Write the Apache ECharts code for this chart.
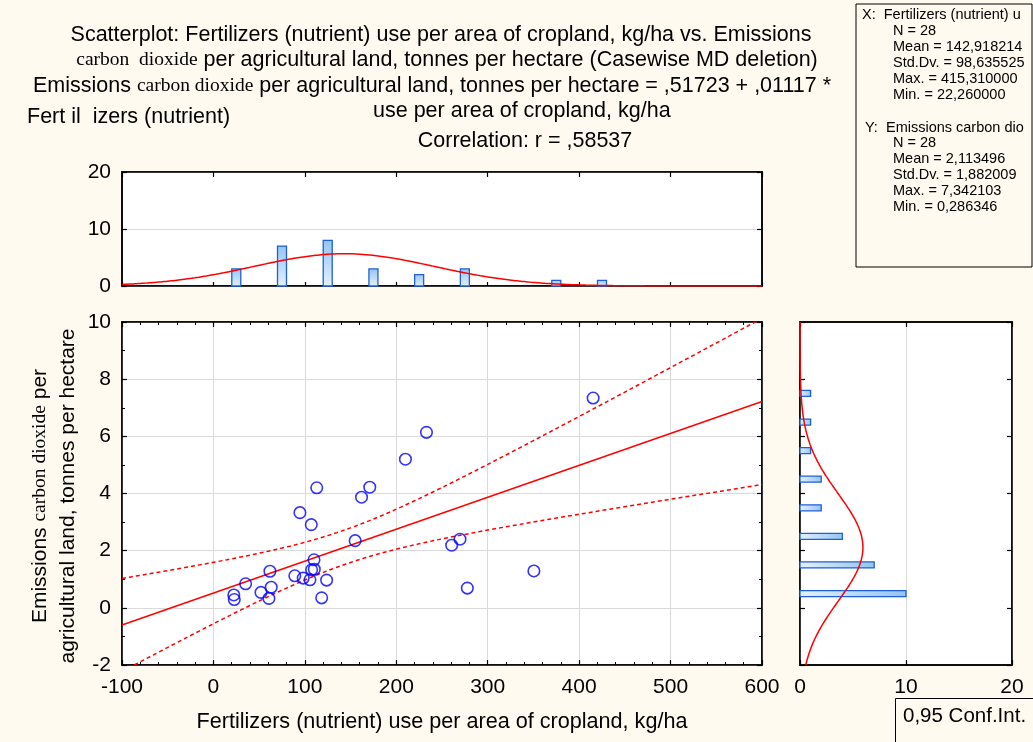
<!DOCTYPE html>
<html><head><meta charset="utf-8">
<script src="https://cdn.jsdelivr.net/npm/echarts@6/dist/echarts.min.js"></script>
<style>html,body{margin:0;padding:0;background:#fffaf0}#c{width:1033px;height:742px}</style>
</head><body><div id="c"></div>
<script>
// ---- data ----
const fertX = [233, 210, 113, 171, 162, 94.6, 107, 155, 260.6, 269.7, 110, 61.8, 35.2, 89, 98.2, 107.4, 110.3, 105.6, 123.8, 63.2, 52, 60.7, 22.3, 22.8, 118.4, 277.7, 350.5, 415.3];
const emissY = [6.14, 5.2, 4.2, 4.22, 3.87, 3.33, 2.91, 2.35, 2.19, 2.40, 1.68, 1.28, 0.84, 1.12, 1.04, 1.33, 1.35, 0.98, 0.97, 0.72, 0.54, 0.33, 0.45, 0.29, 0.35, 0.69, 1.29, 7.34];
const xBinCenters = [25, 75, 125, 175, 225, 275, 325, 375, 425];
const xBinCounts = [3, 7, 8, 3, 2, 3, 0, 1, 1];
const yBinCenters = [0.5, 1.5, 2.5, 3.5, 4.5, 5.5, 6.5, 7.5];
const yBinCounts = [10, 7, 4, 2, 2, 1, 1, 1];
const regCoef = [0.51723, 0.01117];          // intercept, slope (from the title)
const xStatsNum = [28, 142.918214, 98.635525]; // N, mean, sd
const yStatsNum = [28, 2.113496, 1.882009];
const xStatsLines = ['N = 28', 'Mean = 142,918214', 'Std.Dv. = 98,635525', 'Max. = 415,310000', 'Min. = 22,260000'];
const yStatsLines = ['N = 28', 'Mean = 2,113496', 'Std.Dv. = 1,882009', 'Max. = 7,342103', 'Min. = 0,286346'];

const F = '"Liberation Sans", Arial, sans-serif';
const S = '"Liberation Serif", "Times New Roman", serif';

// ---- fitted curves ----
const n = fertX.length;
const fit = x => regCoef[0] + regCoef[1] * x;
let sse = 0; for (let i = 0; i < n; i++) { const r = emissY[i] - fit(fertX[i]); sse += r * r; }
const sRes = Math.sqrt(sse / (n - 2));
const sxx = (n - 1) * xStatsNum[2] * xStatsNum[2];
const tCrit = 2.0555;
const ciUp = [], ciLo = [];
for (let x = -100; x <= 600; x += 5) {
  const h = tCrit * sRes * Math.sqrt(1 / n + (x - xStatsNum[1]) ** 2 / sxx);
  ciUp.push([x, fit(x) + h]); ciLo.push([x, fit(x) - h]);
}
const normX = [];
for (let x = -100; x <= 600; x += 4) {
  const z = (x - xStatsNum[1]) / xStatsNum[2];
  normX.push([x, xStatsNum[0] * 50 / (xStatsNum[2] * Math.sqrt(2 * Math.PI)) * Math.exp(-0.5 * z * z)]);
}
const normY = [];
for (let y = -2; y <= 10.001; y += 0.05) {
  const z = (y - yStatsNum[1]) / yStatsNum[2];
  normY.push([yStatsNum[0] * 1 / (yStatsNum[2] * Math.sqrt(2 * Math.PI)) * Math.exp(-0.5 * z * z), y]);
}

const axLine = { show: true, onZero: false, lineStyle: { color: '#000', width: 1.5 } };
const grayGrid = { show: true, lineStyle: { color: '#dadada', width: 1 } };
const lab = { color: '#000', fontFamily: F, fontSize: 21 };
function ax(o) {
  return Object.assign({ type: 'value', axisLine: axLine, axisLabel: { show: false }, splitLine: { show: false },
    axisTick: { show: true, inside: true, length: 5, lineStyle: { color: '#000', width: 1.2 } } }, o);
}
const barGrad = (vertical) => new echarts.graphic.LinearGradient(0, vertical ? 1 : 0, vertical ? 0 : 1, 0,
  [{ offset: 0, color: '#e4f1fd' }, { offset: 1, color: '#94c4f2' }]);

const option = {
  backgroundColor: '#fffaf0',
  animation: false,
  grid: [
    { left: 122, top: 322, width: 640, height: 343, show: true, backgroundColor: '#fff', borderColor: '#000', borderWidth: 1.5 },
    { left: 122, top: 172, width: 640, height: 114, show: true, backgroundColor: '#fff', borderColor: '#000', borderWidth: 1.5 },
    { left: 800, top: 322, width: 212, height: 343, show: true, backgroundColor: '#fff', borderColor: '#000', borderWidth: 1.5 }
  ],
  xAxis: [
    ax({ gridIndex: 0, position: 'bottom', min: -100, max: 600, interval: 100, axisLabel: Object.assign({ show: true, margin: 12 }, lab),
      minorTick: { show: true, splitNumber: 5, length: 3, lineStyle: { color: '#000' } }, splitLine: grayGrid }),
    ax({ gridIndex: 0, position: 'top', min: -100, max: 600, interval: 100,
      minorTick: { show: true, splitNumber: 5, length: 3, lineStyle: { color: '#000' } } }),
    ax({ gridIndex: 1, position: 'bottom', min: -100, max: 600, interval: 100, axisTick: { show: true, inside: true, length: 4, lineStyle: { color: '#000', width: 1.2 } } }),
    ax({ gridIndex: 1, position: 'top', min: -100, max: 600, interval: 100 }),
    ax({ gridIndex: 2, position: 'bottom', min: 0, max: 20, interval: 10, axisLabel: Object.assign({ show: true, margin: 12 }, lab), splitLine: grayGrid }),
    ax({ gridIndex: 2, position: 'top', min: 0, max: 20, interval: 10 })
  ],
  yAxis: [
    ax({ gridIndex: 0, position: 'left', min: -2, max: 10, interval: 2, axisLabel: Object.assign({ show: true, margin: 11 }, lab),
      minorTick: { show: true, splitNumber: 2, length: 3, lineStyle: { color: '#000' } }, splitLine: grayGrid }),
    ax({ gridIndex: 0, position: 'right', min: -2, max: 10, interval: 2,
      minorTick: { show: true, splitNumber: 2, length: 3, lineStyle: { color: '#000' } } }),
    ax({ gridIndex: 1, position: 'left', min: 0, max: 20, interval: 10, axisLabel: Object.assign({ show: true, margin: 11 }, lab), splitLine: grayGrid }),
    ax({ gridIndex: 1, position: 'right', min: 0, max: 20, interval: 10 }),
    ax({ gridIndex: 2, position: 'left', min: -2, max: 10, interval: 2 }),
    ax({ gridIndex: 2, position: 'right', min: -2, max: 10, interval: 2 })
  ],
  series: [
    { type: 'line', xAxisIndex: 0, yAxisIndex: 0, data: ciUp, showSymbol: false, symbol: 'none', smooth: false,
      lineStyle: { color: '#ff0000', width: 1.5, type: [4, 3] }, z: 3 },
    { type: 'line', xAxisIndex: 0, yAxisIndex: 0, data: ciLo, showSymbol: false, symbol: 'none',
      lineStyle: { color: '#ff0000', width: 1.5, type: [4, 3] }, z: 3 },
    { type: 'line', xAxisIndex: 0, yAxisIndex: 0, data: [[-100, fit(-100)], [600, fit(600)]], showSymbol: false, symbol: 'none',
      lineStyle: { color: '#ff0000', width: 1.4 }, z: 3 },
    { type: 'scatter', xAxisIndex: 0, yAxisIndex: 0, data: fertX.map((x, i) => [x, emissY[i]]), symbol: 'circle', symbolSize: 11.5,
      itemStyle: { color: 'rgba(0,0,0,0)', borderColor: '#0000ff', borderWidth: 1.6 }, z: 4 },
    { type: 'custom', xAxisIndex: 2, yAxisIndex: 2, data: xBinCenters.map((c, i) => [c, xBinCounts[i]]), encode: { x: 0, y: 1 },
      renderItem: (p, api) => {
        const v = api.value(1); if (!v) return null;
        const a = api.coord([api.value(0), 0]), b = api.coord([api.value(0), v]);
        return { type: 'rect', shape: { x: a[0] - 4.5, y: b[1], width: 9, height: a[1] - b[1] },
          style: { fill: barGrad(true), stroke: '#1f5fd8', lineWidth: 1.3 } };
      }, z: 2 },
    { type: 'line', xAxisIndex: 2, yAxisIndex: 2, data: normX, showSymbol: false, symbol: 'none', smooth: true,
      lineStyle: { color: '#ff0000', width: 1.5 }, z: 3 },
    { type: 'custom', xAxisIndex: 4, yAxisIndex: 4, data: yBinCenters.map((c, i) => [yBinCounts[i], c]), encode: { x: 0, y: 1 },
      renderItem: (p, api) => {
        const v = api.value(0); if (!v) return null;
        const a = api.coord([0, api.value(1)]), b = api.coord([v, api.value(1)]);
        return { type: 'rect', shape: { x: a[0], y: a[1] - 3, width: b[0] - a[0], height: 6 },
          style: { fill: barGrad(false), stroke: '#1f5fd8', lineWidth: 1.3 } };
      }, z: 2 },
    { type: 'line', xAxisIndex: 4, yAxisIndex: 4, data: normY, showSymbol: false, symbol: 'none',
      lineStyle: { color: '#ff0000', width: 1.5 }, z: 3 }
  ],
  graphic: []
};

const T = (text, x, y, align, size, extra) => Object.assign({ type: 'text', x: x, y: y, z: 100,
  style: Object.assign({ text: text, fill: '#000', font: (size || 21.5) + 'px ' + F, textAlign: align || 'center', textVerticalAlign: 'middle',
    rich: { s: { fontFamily: S, fontSize: 19.5, fill: '#000' }, a: { fontFamily: F, fontSize: 21, fill: '#000' } } }, extra || {}) });

option.graphic.push(
  T('Scatterplot: Fertilizers (nutrient) use per area of cropland, kg/ha vs. Emissions', 441, 35),
  T('{s|carbon  dioxide} per agricultural land, tonnes per hectare (Casewise MD deletion)', 447, 60),
  T('Emissions {s|carbon dioxide} per agricultural land, tonnes per hectare = ,51723 + ,01117 *', 432, 86),
  T('Fert il  izers (nutrient)', 27, 117, 'left'),
  T('use per area of cropland, kg/ha', 373, 111, 'left'),
  T('Correlation: r = ,58537', 525, 141),
  T('Fertilizers (nutrient) use per area of cropland, kg/ha', 442, 722, 'center', 21.6),
  Object.assign(T('{a|Emissions }{s|carbon dioxide}{a| per}\n{a|agricultural land, tonnes per hectare}', 54, 496, 'center', 21,
    { lineHeight: 28 }), { rotation: Math.PI / 2 }),
  { type: 'rect', shape: { x: 856, y: 4, width: 176, height: 263 }, style: { fill: '#fffaf0', stroke: '#000', lineWidth: 1 }, z: 90 },
  T('X:  Fertilizers (nutrient) u', 862, 15, 'left', 14.5),
  T('Y:  Emissions carbon dio', 865, 128, 'left', 14.5),
  { type: 'rect', shape: { x: 895.5, y: 698.5, width: 140, height: 50 }, style: { fill: '#fffaf0', stroke: '#000', lineWidth: 1 }, z: 90 },
  T('0,95 Conf.Int.', 903, 716, 'left', 20.5)
);
xStatsLines.forEach((s, i) => option.graphic.push(T(s, 893, 31 + i * 16, 'left', 14.5)));
yStatsLines.forEach((s, i) => option.graphic.push(T(s, 893, 143 + i * 16, 'left', 14.5)));

const chart = echarts.init(document.getElementById('c'));
chart.setOption(option);
</script></body></html>
